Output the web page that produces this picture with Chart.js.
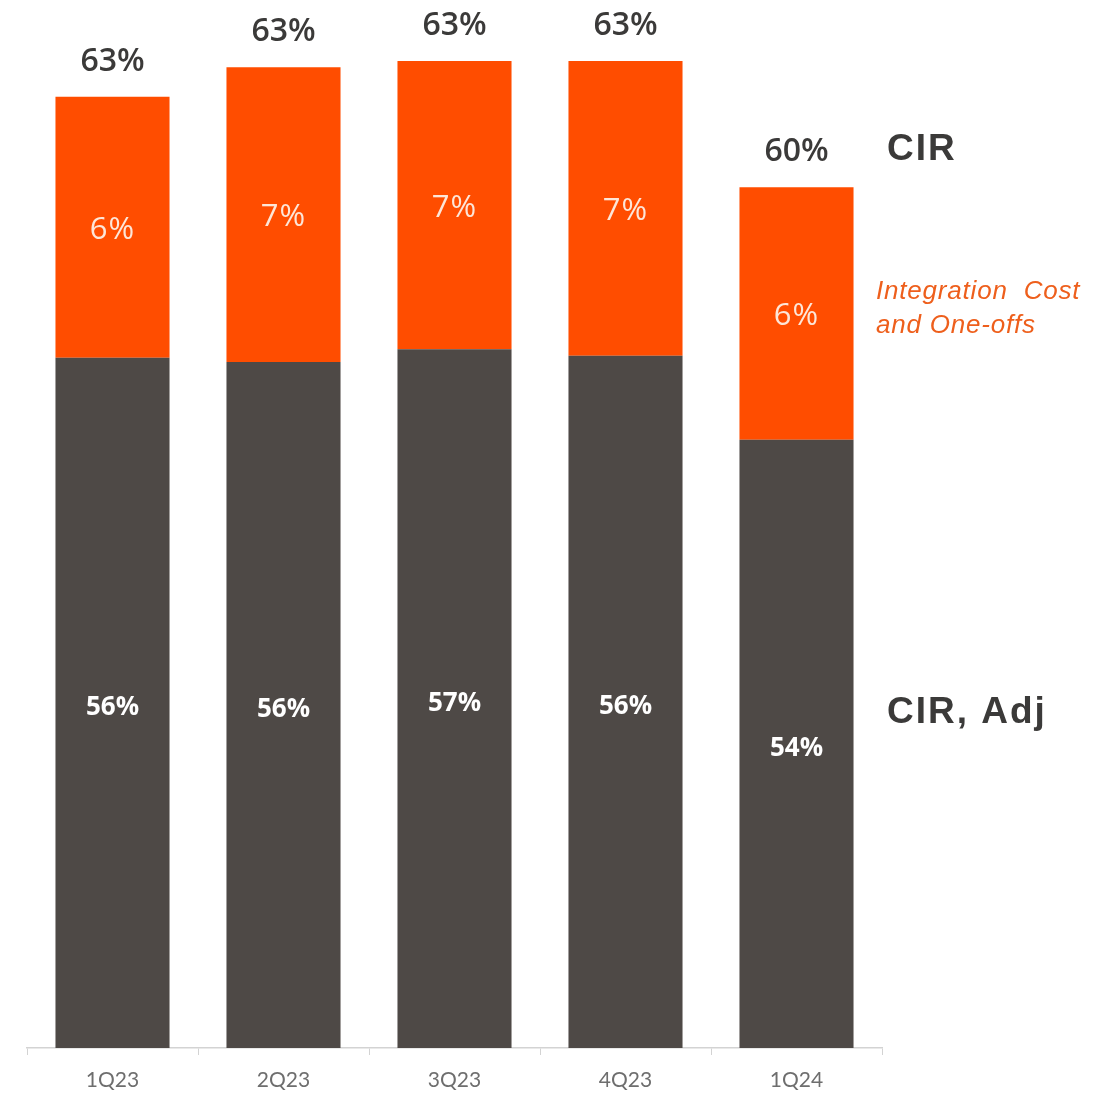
<!DOCTYPE html>
<html>
<head>
<meta charset="utf-8">
<script src="https://cdn.jsdelivr.net/npm/chart.js@4.4.1/dist/chart.umd.min.js"></script>
<style>
  html, body { margin: 0; padding: 0; background: #ffffff; }
  #wrap { width: 1112px; height: 1093px; position: relative; }
</style>
</head>
<body>
<div id="wrap"><canvas id="cir"></canvas></div>
<script>
// Quarterly cost-income ratio, split into adjusted CIR and integration / one-off items (%)
const quarters = ['1Q23', '2Q23', '3Q23', '4Q23', '1Q24'];
const cirAdjusted = [56.4, 56.3, 56.6, 56.45, 54.45];
const integrationOneOffs = [6.2, 7.0, 6.85, 7.0, 6.0];

const ORANGE = '#ff4d00';
const DARK = '#4e4946';

const fmt = v => Math.round(v) + '%';

const labelPlugin = {
  id: 'segmentLabels',
  afterDatasetsDraw(chart) {
    const ctx = chart.ctx;
    const area = chart.chartArea;
    const adjMeta = chart.getDatasetMeta(0);
    const oneOffMeta = chart.getDatasetMeta(1);
    ctx.save();
    ctx.textAlign = 'center';
    ctx.textBaseline = 'middle';
    quarters.forEach((q, i) => {
      const adjBar = adjMeta.data[i];
      const topBar = oneOffMeta.data[i];
      // adjusted CIR, inside the visible part of the dark segment
      const adjBottom = Math.min(adjBar.base, area.bottom);
      ctx.letterSpacing = '0px';
      ctx.fillStyle = '#ffffff';
      ctx.font = 'bold 26px "Open Sans"';
      ctx.fillText(fmt(cirAdjusted[i]), adjBar.x, (adjBar.y + adjBottom) / 2 + 5);
      // integration cost and one-offs, inside the orange segment
      ctx.letterSpacing = '1px';
      ctx.fillStyle = '#fde6d8';
      ctx.font = '31px "Open Sans"';
      ctx.fillText(fmt(integrationOneOffs[i]), topBar.x, (topBar.y + topBar.base) / 2 + 3);
      // reported CIR above the bar
      ctx.letterSpacing = '0px';
      ctx.fillStyle = '#3b3a39';
      ctx.font = '600 32px "Open Sans"';
      ctx.fillText(fmt(cirAdjusted[i] + integrationOneOffs[i]), topBar.x, topBar.y - 35);
    });

    // series names on the right
    const x0 = area.right + 5;
    ctx.textAlign = 'left';
    ctx.fillStyle = '#3b3a39';
    ctx.font = 'bold 37px "Liberation Sans"';
    ctx.letterSpacing = '2px';
    ctx.fillText('CIR', x0, 150);
    ctx.fillText('CIR, Adj', x0, 713);
    ctx.fillStyle = '#ee5f1c';
    ctx.font = 'italic 26px "Liberation Sans"';
    ctx.letterSpacing = '0.8px';
    ctx.fillText('Integration  Cost', x0 - 11, 292);
    ctx.fillText('and One-offs', x0 - 11, 326);
    ctx.restore();
  }
};

new Chart(document.getElementById('cir'), {
  type: 'bar',
  data: {
    labels: quarters,
    datasets: [
      { label: 'CIR, Adj', data: cirAdjusted, backgroundColor: DARK },
      { label: 'Integration Cost and One-offs', data: integrationOneOffs, backgroundColor: ORANGE }
    ]
  },
  options: {
    responsive: true,
    maintainAspectRatio: false,
    animation: false,
    layout: { padding: { left: 27, right: 230, top: 0, bottom: 0 } },
    plugins: { legend: { display: false }, tooltip: { enabled: false } },
    datasets: { bar: { categoryPercentage: 1.0, barPercentage: 0.667 } },
    scales: {
      x: {
        stacked: true,
        afterFit(scale) { scale.height = 45; },
        grid: {
          offset: true,
          drawOnChartArea: false,
          drawTicks: true,
          tickLength: 7,
          color: '#d3d3d3'
        },
        border: { display: true, color: '#d3d3d3', width: 1.5 },
        ticks: {
          color: '#6e6e6e',
          font: { family: 'Lato', size: 21 },
          padding: 13
        }
      },
      y: {
        stacked: true,
        display: false,
        min: 40,
        max: 64.9
      }
    }
  },
  plugins: [labelPlugin]
});
</script>
</body>
</html>
